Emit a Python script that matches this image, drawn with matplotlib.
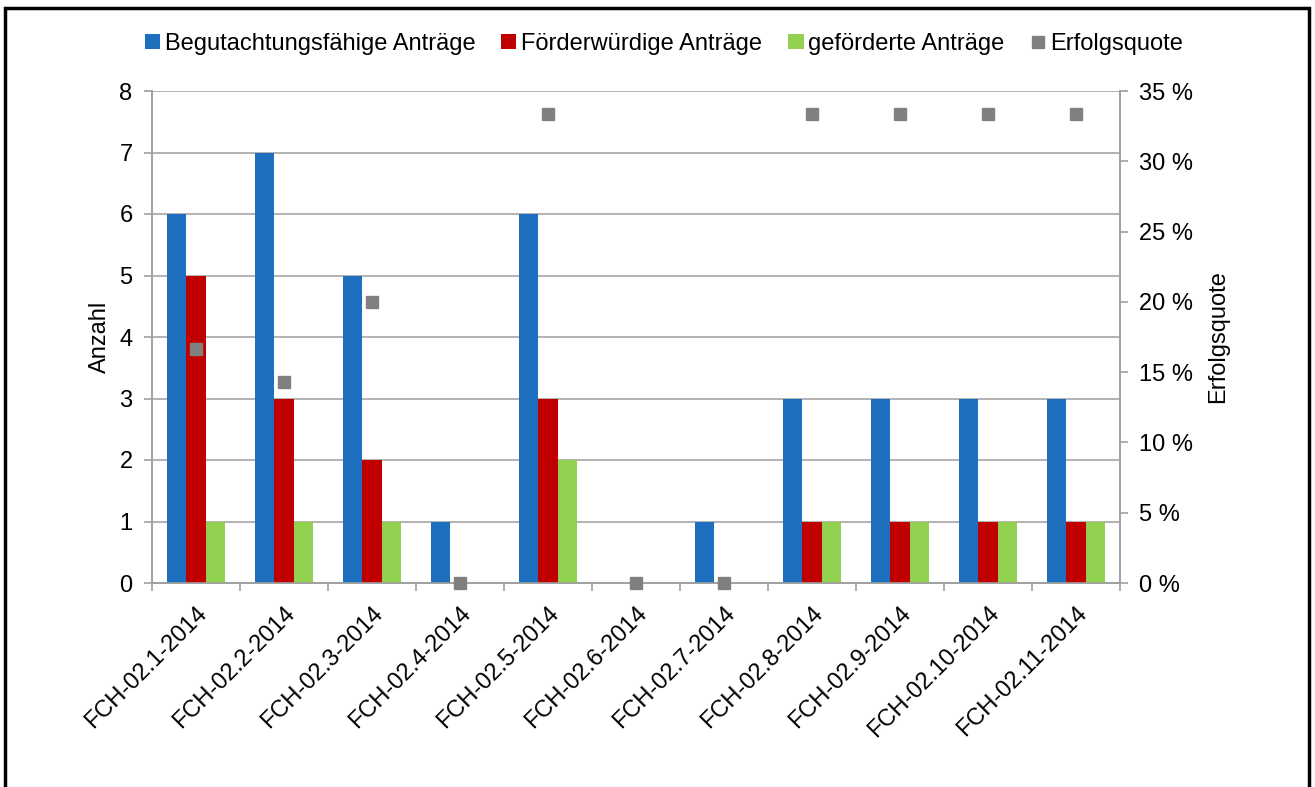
import matplotlib
matplotlib.use("Agg")
import matplotlib.pyplot as plt
import numpy as np
from matplotlib.patches import Rectangle
from matplotlib.ticker import FuncFormatter, FixedLocator

categories = ["FCH-02.1-2014", "FCH-02.2-2014", "FCH-02.3-2014", "FCH-02.4-2014",
              "FCH-02.5-2014", "FCH-02.6-2014", "FCH-02.7-2014", "FCH-02.8-2014",
              "FCH-02.9-2014", "FCH-02.10-2014", "FCH-02.11-2014"]
begutachtungsfaehig = [6, 7, 5, 1, 6, 0, 1, 3, 3, 3, 3]
foerderwuerdig = [5, 3, 2, 0, 3, 0, 0, 1, 1, 1, 1]
gefoerdert = [1, 1, 1, 0, 2, 0, 0, 1, 1, 1, 1]
erfolgsquote = [16.67, 14.29, 20.0, 0.0, 33.33, 0.0, 0.0, 33.33, 33.33, 33.33, 33.33]

plt.rcParams['font.family'] = ['Liberation Sans', 'DejaVu Sans']
FS = 17

fig = plt.figure(figsize=(13.15, 7.87), dpi=100)
W, H = 1315, 787
ax = fig.add_axes([152 / W, 1 - 583 / H, (1120 - 152) / W, (583 - 91) / H])
ax2 = ax.twinx()

x = np.arange(len(categories))
bw = 0.222
c_blue, c_red, c_green, c_gray = "#1f6fbf", "#c00000", "#92d050", "#808080"
b1 = ax.bar(x - bw, begutachtungsfaehig, bw, color=c_blue, label="Begutachtungsfähige Anträge", zorder=3)
b2 = ax.bar(x, foerderwuerdig, bw, color=c_red, label="Förderwürdige Anträge", zorder=3)
b3 = ax.bar(x + bw, gefoerdert, bw, color=c_green, label="geförderte Anträge", zorder=3)
l4, = ax2.plot(x, erfolgsquote, linestyle="none", marker="s", markersize=8.5,
               color=c_gray, label="Erfolgsquote", zorder=4, clip_on=False)

ax.set_xlim(-0.5, len(categories) - 0.5)
ax.set_ylim(0, 8)
ax2.set_ylim(0, 35)
ax.set_yticks(range(0, 9))
ax2.set_yticks(range(0, 36, 5))
ax2.yaxis.set_major_formatter(FuncFormatter(lambda v, p: f"{int(v)} %"))

ax.grid(axis="y", color="#a6a6a6", linewidth=1.2, zorder=0)
ax.set_axisbelow(True)

gc = "#a0a0a0"
for a in (ax, ax2):
    for s in a.spines.values():
        s.set_color(gc)
        s.set_linewidth(1.2)
    a.spines["top"].set_visible(False)
ax.tick_params(axis="y", length=6, width=1.2, color=gc, labelsize=FS, pad=8)
ax2.tick_params(axis="y", length=6, width=1.2, color=gc, labelsize=FS, pad=8)

ax.set_xticks(x)
ax.set_xticklabels(categories, rotation=45, ha="right", rotation_mode="anchor", fontsize=FS)
ax.tick_params(axis="x", which="major", length=0, pad=14)
ax.xaxis.set_minor_locator(FixedLocator(np.arange(-0.5, len(categories), 1.0)))
ax.tick_params(axis="x", which="minor", length=6, width=1.2, color=gc)

ax.set_ylabel("Anzahl", fontsize=FS, labelpad=6)
ax2.set_ylabel("Erfolgsquote", fontsize=FS, labelpad=10)

handles = [b1, b2, b3, l4]
leg = fig.legend(handles=handles, labels=[h.get_label() for h in handles],
                 loc="center", bbox_to_anchor=(664 / W, 1 - 44 / H), ncol=4,
                 frameon=False, fontsize=FS, handlelength=0.6, handleheight=0.6,
                 handletextpad=0.25, columnspacing=1.1)
for h in leg.legend_handles[:3]:
    h.set_height(11); h.set_width(11)
leg.legend_handles[3].set_markersize(8.5)

fig.patches.append(Rectangle((5 / W, -0.05), 1304 / W, 1.05 - 8 / H, transform=fig.transFigure,
                             fill=False, edgecolor="black", linewidth=2.5))

fig.savefig("out.png", dpi=100)
